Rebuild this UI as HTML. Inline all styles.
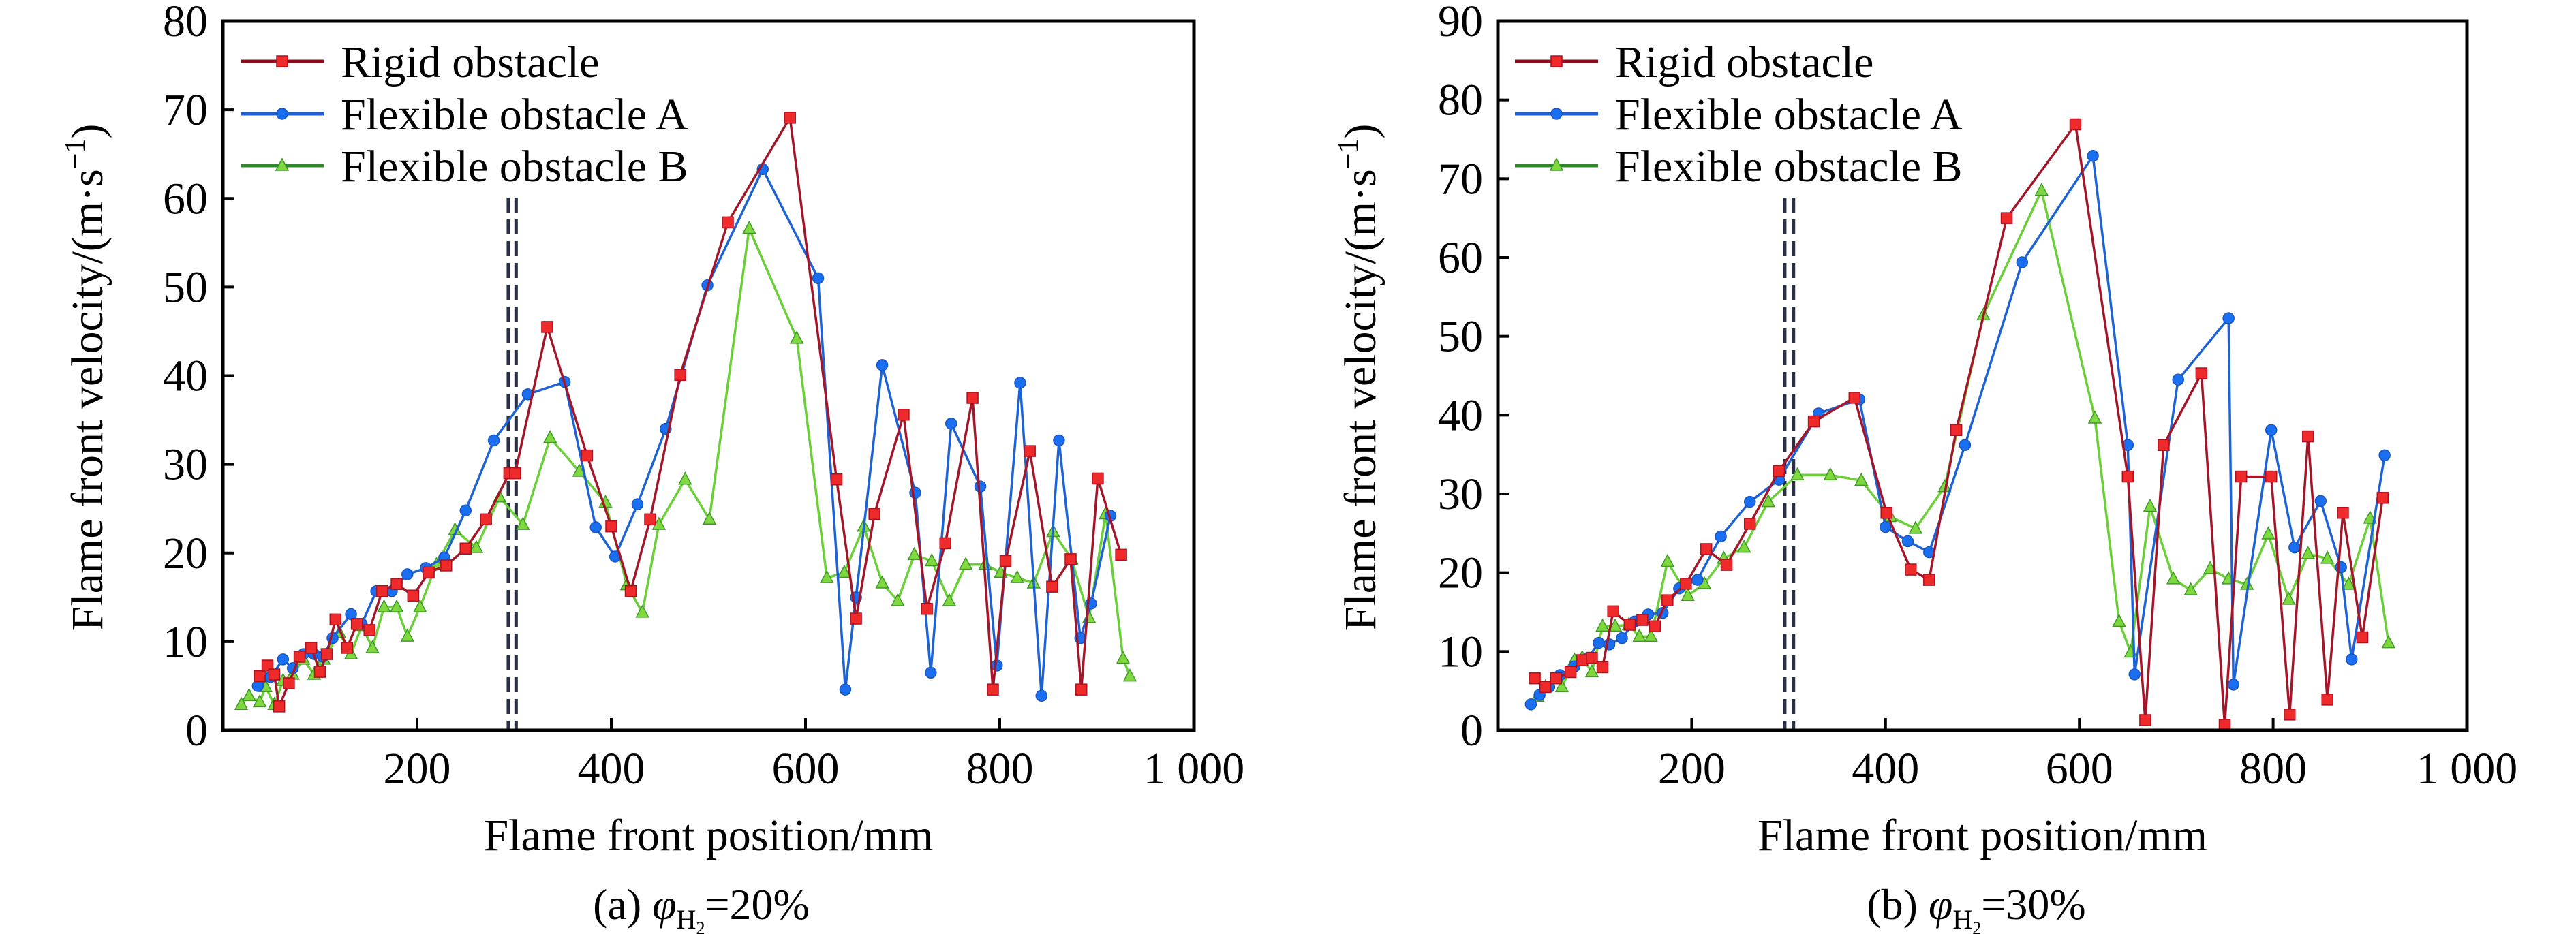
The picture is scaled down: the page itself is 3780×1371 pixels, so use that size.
<!DOCTYPE html>
<html><head><meta charset="utf-8">
<style>
html,body{margin:0;padding:0;background:#fff;}
svg{display:block;}
text{font-family:"Liberation Serif",serif;fill:#000;}
</style></head>
<body>
<svg id="chart" width="3780" height="1371" viewBox="0 0 3780 1371" xmlns="http://www.w3.org/2000/svg"></svg>
<script>
// Panel (a) phi=20%
const aRigidX=[38,46,53,58,68,79,91,100,107,116,128,138,151,164,179,196,212,230,250,271,295,301,334,375,400,420,440,471,520,584,632,652,671,701,725,744,772,793,806,831,854,873,884,901,925];
const aRigidY=[6.1,7.3,6.3,2.7,5.3,8.3,9.3,6.6,8.6,12.5,9.3,12,11.3,15.7,16.5,15.2,17.8,18.6,20.5,23.8,29,29,45.5,31,23,15.7,23.8,40.1,57.3,69.1,28.3,12.6,24.4,35.6,13.7,21.1,37.5,4.6,19.1,31.5,16.2,19.3,4.6,28.4,19.8];
const aFlexAX=[36,49,62,72,83,94,103,113,132,143,158,174,190,209,228,250,279,314,352,384,404,427,456,499,556,613,641,652,679,713,729,750,780,797,821,843,861,883,894,914];
const aFlexAY=[5,6,8,7,8.6,8.6,8.3,10.4,13.1,12,15.7,15.7,17.6,18.3,19.5,24.8,32.7,37.9,39.3,22.9,19.6,25.5,34,50.2,63.3,51,4.6,15,41.2,26.8,6.5,34.6,27.5,7.3,39.2,3.9,32.7,10.4,14.3,24.2];
const aFlexBX=[19,27,38,44,53,62,72,83,94,104,120,132,143,154,166,179,190,203,220,239,261,285,309,337,367,394,416,432,449,476,501,542,591,622,640,660,679,695,712,730,748,765,785,801,818,835,855,874,892,909,927,934];
const aFlexBY=[2.9,3.9,3.2,4.9,2.9,5.6,6.3,8,6.3,8,11,8.6,11.8,9.3,13.9,13.9,10.6,13.9,18.7,22.6,20.6,26.3,23.2,33,29.2,25.7,16.4,13.3,23.2,28.3,23.8,56.6,44.2,17.2,17.8,23,16.6,14.6,19.8,19.1,14.6,18.7,18.7,17.8,17.2,16.6,22.4,19.3,12.7,24.4,8.1,6.1];
// Panel (b) phi=30%
const bRigidX=[38,49,60,75,87,97,108,119,136,149,162,175,194,215,236,260,290,326,368,401,426,445,473,525,596,650,668,687,726,750,767,798,817,836,856,872,892,913];
const bRigidY=[6.6,5.5,6.6,7.4,8.9,9.2,8,15.1,13.4,14,13.2,16.5,18.6,23,21,26.2,32.9,39.2,42.2,27.6,20.4,19.1,38.1,65,76.9,32.2,1.3,36.2,45.3,0.7,32.2,32.2,2,37.3,3.9,27.6,11.8,29.5];
const bFlexAX=[34,43,53,64,79,93,104,115,128,141,155,170,187,206,230,260,290,331,373,400,423,445,482,541,614,650,657,702,754,759,798,822,849,870,881,915];
const bFlexAY=[3.3,4.5,5.5,7,8.1,9.2,11.1,10.9,11.7,13.8,14.7,14.9,18,19.1,24.6,29,31.8,40.2,42,25.8,24,22.6,36.2,59.4,72.9,36.2,7.1,44.5,52.3,5.8,38.1,23.2,29.1,20.7,9,34.9];
const bFlexBX=[41,49,60,66,79,87,97,108,121,135,146,158,175,196,213,233,254,279,309,343,375,405,431,461,501,561,616,641,653,673,697,715,735,754,773,795,816,836,856,878,900,919];
const bFlexBY=[4.3,5.5,6.6,5.5,8.9,9.2,7.4,13.2,13.2,13.4,11.9,11.9,21.4,17.1,18.6,21.8,23.2,29,32.4,32.4,31.7,27.1,25.6,30.9,52.7,68.5,39.6,13.8,9.9,28.4,19.2,17.8,20.5,19.2,18.5,24.9,16.6,22.4,21.8,18.5,26.9,11.1];
const xTicks=[200,400,600,800,1000];
const xTickLabels=["200","400","600","800","1 000"];
const aYTicks=[0,10,20,30,40,50,60,70,80];
const bYTicks=[0,10,20,30,40,50,60,70,80,90];
const legendLabels=["Rigid obstacle","Flexible obstacle A","Flexible obstacle B"];

const NS="http://www.w3.org/2000/svg";
const svg=document.getElementById('chart');
function mk(tag,attrs,parent){const e=document.createElementNS(NS,tag);for(const k in attrs)e.setAttribute(k,attrs[k]);(parent||svg).appendChild(e);return e;}

const COL={red:{line:"#a3162a",fill:"#ee2a2a",stroke:"#b01020"},blue:{line:"#1d63d6",fill:"#1a6ff0",stroke:"#1a55c0"},green:{line:"#6bd038",fill:"#7ed83e",stroke:"#3f9a2a"}};

function panel(opt){
  const g=mk('g',{});
  
  
  const L=opt.L,R=opt.R,T=31,B=1072;
  const xs=v=>L+(v/1000)*(R-L);
  const ys=v=>B-(v/opt.ymax)*(B-T);
  // series
  const series=[
    {x:opt.rx,y:opt.ry,c:COL.red,m:'sq',n:'rigid-obstacle-series'},
    {x:opt.ax,y:opt.ay,c:COL.blue,m:'ci',n:'flexible-obstacle-a-series'},
    {x:opt.bx,y:opt.by,c:COL.green,m:'tr',n:'flexible-obstacle-b-series'}];
  // dashed lines
  opt.dash.forEach((d,i)=>{
    const ln=mk('line',{x1:xs(d),x2:xs(d),y1:290,y2:B,stroke:"#2a2f45","stroke-width":5,"stroke-dasharray":"22,10"},g);
    
    
  });
  function marker(type,cx,cy,c,parent){
    let e;
    if(type==='sq') e=mk('rect',{x:cx-8,y:cy-8,width:16,height:16,fill:c.fill,stroke:c.stroke,"stroke-width":1.5},parent);
    else if(type==='ci') e=mk('circle',{cx:cx,cy:cy,r:8,fill:c.fill,stroke:c.stroke,"stroke-width":1.5},parent);
    else e=mk('polygon',{points:`${cx},${cy-10} ${cx-9},${cy+7} ${cx+9},${cy+7}`,fill:c.fill,stroke:c.stroke,"stroke-width":1.5},parent);
    return e;
  }
  [2,1,0].forEach(i=>{
    const s=series[i];
    const sg=mk('g',{},g);
    
    
    const pts=s.x.map((v,j)=>xs(v).toFixed(1)+','+ys(s.y[j]).toFixed(1)).join(' ');
    const pl=mk('polyline',{points:pts,fill:'none',stroke:s.c.line,"stroke-width":3.5,"stroke-linejoin":"round"},sg);
    
    
    s.x.forEach((v,j)=>{
      const m=marker(s.m,xs(v),ys(s.y[j]),s.c,sg);
      
      
    });
  });
  // frame
  const fr=mk('rect',{x:L,y:T,width:R-L,height:B-T,fill:'none',stroke:'#000',"stroke-width":5},g);
  
  
  // x ticks
  xTicks.forEach((v,i)=>{
    if(v<1000){const t=mk('line',{x1:xs(v),x2:xs(v),y1:B,y2:B-18,stroke:'#000',"stroke-width":4},g);
    }
    const tl=mk('text',{x:xs(v),y:1150,"font-size":66,"text-anchor":"middle"},g);
    tl.textContent=xTickLabels[i];
    
    
  });
  opt.yt.forEach(v=>{
    if(v>0&&v<opt.ymax){const t=mk('line',{x1:L,x2:L+16,y1:ys(v),y2:ys(v),stroke:'#000',"stroke-width":4},g);
    }
    const tl=mk('text',{x:L-22,y:ys(v)+22,"font-size":66,"text-anchor":"end"},g);
    tl.textContent=String(v);
    
    
  });
  // axis titles
  const xt=mk('text',{x:(L+R)/2,y:1248,"font-size":66,"text-anchor":"middle"},g);
  xt.textContent="Flame front position/mm";
  
  
  const yt=mk('text',{x:0,y:0,"font-size":66,"text-anchor":"middle",transform:`translate(${opt.ylx},554) rotate(-90)`},g);
  yt.innerHTML='Flame front velocity/(m·s<tspan font-size="42" dy="-26">−1</tspan><tspan dy="26">)</tspan>';
  
  
  const cap=mk('text',{x:opt.capx,y:1349,"font-size":64,"text-anchor":"middle"},g);
  cap.innerHTML=opt.capPre+'<tspan font-style="italic">φ</tspan><tspan font-size="40" dy="14">H</tspan><tspan font-size="26" dy="8">2</tspan><tspan dy="-22">'+opt.capPost+'</tspan>';
  
  
  // legend
  const lg=mk('g',{},g);
  
  
  const legCols=[{line:"#8e0c1c",c:COL.red,m:'sq'},{line:"#1d5fd8",c:COL.blue,m:'ci'},{line:"#2f8a2a",c:COL.green,m:'tr'}];
  [90,167,243].forEach((yy,i)=>{
    const en=mk('g',{},lg);
    
    
    mk('line',{x1:opt.lx,x2:opt.lx+122,y1:yy,y2:yy,stroke:legCols[i].line,"stroke-width":5},en);
    marker(legCols[i].m,opt.lx+61,yy,legCols[i].c,en);
    const t=mk('text',{x:opt.lx+147,y:yy+23,"font-size":66},en);
    t.textContent=legendLabels[i];
  });
}
panel({name:'panel-a-20-percent',L:327,R:1752,ymax:80,yt:aYTicks,rx:aRigidX,ry:aRigidY,ax:aFlexAX,ay:aFlexAY,bx:aFlexBX,by:aFlexBY,dash:[294,302],ylx:150,capx:1029,capPre:'(a) ',capPost:'=20%',lx:353});
panel({name:'panel-b-30-percent',L:2198,R:3620,ymax:90,yt:bYTicks,rx:bRigidX,ry:bRigidY,ax:bFlexAX,ay:bFlexAY,bx:bFlexBX,by:bFlexBY,dash:[296,305],ylx:2018,capx:2900,capPre:'(b) ',capPost:'=30%',lx:2223});
</script>
</body></html>
